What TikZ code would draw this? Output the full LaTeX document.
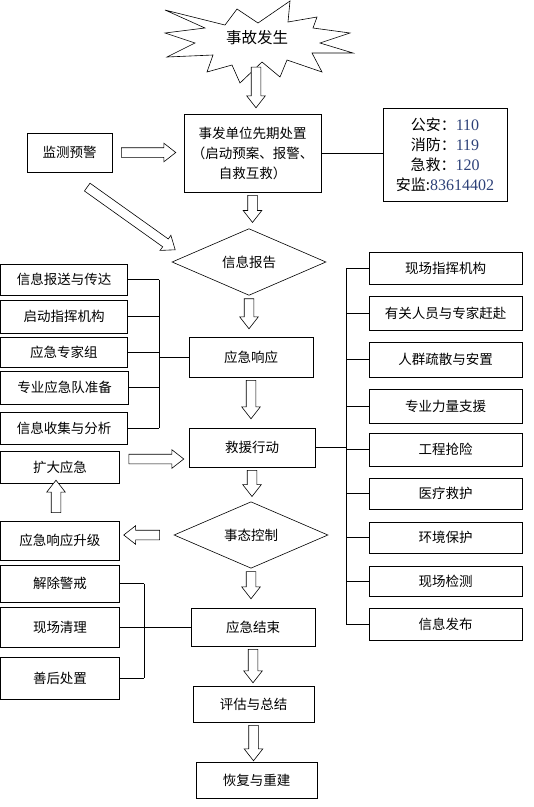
\documentclass[tikz,border=0pt]{standalone}
\usepackage{fontspec}
\newfontfamily\cjk{Noto Sans CJK SC}
\newfontfamily\numfont{Liberation Serif}
\usetikzlibrary{shapes.geometric,shapes.arrows,calc}
\definecolor{telblue}{RGB}{45,65,120}
\newcommand\phoneno[1]{{\numfont\fontsize{16}{20}\selectfont\color{telblue}#1}}
% hollow block arrow between two points
\newcommand\bigarrow[2]{%
  \path let \p1=#1, \p2=#2, \n1={veclen(\x2-\x1,\y2-\y1)} in
    #1 -- #2 node[hollow, sloped, allow upside down, pos=0.5, minimum height=\n1] {};}
\begin{document}
\begin{tikzpicture}[x=1pt, y=-1pt,
    box/.style={draw, line width=0.6pt, inner sep=0pt, align=center},
    decision/.style={diamond, draw, line width=0.6pt, inner sep=0pt},
    hollow/.style={single arrow, draw, line width=0.6pt, fill=white, inner xsep=0pt,
        inner ysep=4.5pt, single arrow head extend=4.5pt, single arrow tip angle=76},
    link/.style={line width=0.6pt},
    every node/.style={font=\cjk\fontsize{13.5}{20}\selectfont}
]
\useasboundingbox (0,0) rectangle (534,807);

% the burst at the top
\draw[link, fill=white] (165,10) -- (225,25) -- (237,9) -- (258,23) -- (290,1) -- (288,22)
  -- (317,17) -- (313,28) -- (350,33) -- (320,43) -- (353,53) -- (312,53) -- (322,72)
  -- (287,60) -- (280,77) -- (262,62) -- (240,83) -- (232,65) -- (207,72) -- (213,55)
  -- (167,57) -- (195,43) -- (165,33) -- (205,28) -- cycle;
\node (fire) at (257,38) {\fontsize{15.5}{18}\selectfont 事故发生};
\coordinate (burstfoot) at (256,64);

% main column
\node[box, minimum width=137, minimum height=78] (first) at (252.5,153)
  {事发单位先期处置\\（启动预案、报警、\\自救互救）};
\node[decision, minimum width=154, minimum height=44] (report) at (249,262) {信息报告};
\node[box, minimum width=124, minimum height=40] (resp) at (251,357) {应急响应};
\node[box, minimum width=126, minimum height=39] (rescue) at (252,447.5) {救援行动};
\node[decision, minimum width=154, minimum height=48] (control) at (251,535) {事态控制};
\node[box, minimum width=124, minimum height=38] (finish) at (253,627) {应急结束};
\node[box, minimum width=121, minimum height=36] (assess) at (253.5,704) {评估与总结};
\node[box, minimum width=121, minimum height=36] (recover) at (256.5,780) {恢复与重建};

% monitoring and phone numbers
\node[box, minimum width=85, minimum height=39] (monitor) at (69.5,152.5) {监测预警};
\node[box, minimum width=124, minimum height=93, font=\cjk\fontsize{15}{20}\selectfont] (tel) at (445,154.5)
  {公安：\phoneno{110}\\消防：\phoneno{119}\\急救：\phoneno{120}\\安监:\phoneno{83614402}};
\draw[link] (first.east) -- (first.east -| tel.west);

% left group
\node[box, minimum width=127, minimum height=31] (l1) at (64,279.5) {信息报送与传达};
\node[box, minimum width=127, minimum height=33] (l2) at (64,316.5) {启动指挥机构};
\node[box, minimum width=127, minimum height=30] (l3) at (64,352) {应急专家组};
\node[box, minimum width=128, minimum height=33] (l4) at (64.5,387.5) {专业应急队准备};
\node[box, minimum width=127, minimum height=32] (l5) at (64,428) {信息收集与分析};
\coordinate (lbus) at (159,0);
\foreach \n in {l1,l2,l3,l4,l5} \draw[link] (\n.east) -- (\n.east -| lbus);
\draw[link] (l1.east -| lbus) -- (l5.east -| lbus);
\draw[link] (resp.west) -- (resp.west -| lbus);

\node[box, minimum width=119, minimum height=32] (expand) at (60,467) {扩大应急};
\node[box, minimum width=119, minimum height=39] (upgrade) at (60,540.5) {应急响应升级};

% closing group
\node[box, minimum width=119, minimum height=37] (e1) at (60,583.5) {解除警戒};
\node[box, minimum width=119, minimum height=40] (e2) at (60,627) {现场清理};
\node[box, minimum width=119, minimum height=42] (e3) at (60,678) {善后处置};
\coordinate (ebus) at (144,0);
\foreach \n in {e1,e2,e3} \draw[link] (\n.east) -- (\n.east -| ebus);
\draw[link] (e1.east -| ebus) -- (e3.east -| ebus);
\draw[link] (finish.west) -- (finish.west -| ebus);

% right group
\node[box, minimum width=153, minimum height=32] (r1) at (445.5,268) {现场指挥机构};
\node[box, minimum width=153, minimum height=34] (r2) at (445.5,313) {有关人员与专家赶赴};
\node[box, minimum width=153, minimum height=35] (r3) at (445.5,359.5) {人群疏散与安置};
\node[box, minimum width=153, minimum height=34] (r4) at (445.5,406) {专业力量支援};
\node[box, minimum width=153, minimum height=33] (r5) at (445.5,449.5) {工程抢险};
\node[box, minimum width=153, minimum height=31] (r6) at (445.5,493.5) {医疗救护};
\node[box, minimum width=153, minimum height=31] (r7) at (445.5,537.5) {环境保护};
\node[box, minimum width=153, minimum height=30] (r8) at (445.5,581) {现场检测};
\node[box, minimum width=153, minimum height=32] (r9) at (445.5,624) {信息发布};
\coordinate (rbus) at (346,0);
\foreach \n in {r1,r2,r3,r4,r5,r6,r7,r8,r9} \draw[link] (\n.west) -- (\n.west -| rbus);
\draw[link] (r1.west -| rbus) -- (r9.west -| rbus);
\draw[link] (rescue.east) -- (rescue.east -| rbus);

% hollow arrows
\bigarrow{(burstfoot)}{([yshift=9pt]burstfoot |- first.north)}
\bigarrow{([xshift=6pt]monitor.east)}{([xshift=-11pt]first.west |- monitor.east)}
\bigarrow{([shift={(58,13)}]monitor.south west)}{([shift={(1,-14)}]report.west)}
\bigarrow{(first.south)}{([yshift=9pt]first.south |- report.north)}
\bigarrow{(report.south)}{([yshift=11pt]report.south |- resp.north)}
\bigarrow{(resp.south)}{([yshift=12pt]resp.south |- rescue.north)}
\bigarrow{([shift={(6,-8)}]expand.east)}{([shift={(-8,-8)}]expand.east -| rescue.west)}
\bigarrow{(rescue.south)}{([yshift=8pt]rescue.south |- control.north)}
\bigarrow{([xshift=-11pt]control.west)}{([xshift=7pt]control.west -| upgrade.east)}
\bigarrow{([shift={(-4,-5)}]upgrade.north)}{([xshift=-4pt]upgrade.north |- expand.south)}
\bigarrow{(control.south)}{([yshift=12pt]control.south |- finish.north)}
\bigarrow{(finish.south)}{([yshift=6pt]finish.south |- assess.north)}
\bigarrow{(assess.south)}{([yshift=4pt]assess.south |- recover.north)}
\end{tikzpicture}
\end{document}
